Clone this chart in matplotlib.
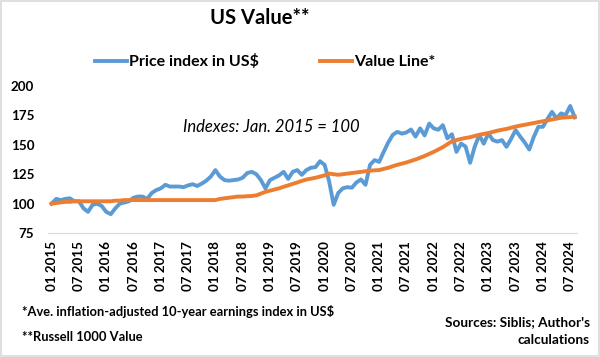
import matplotlib.pyplot as plt
from matplotlib.patches import Rectangle

plt.rcParams['font.family'] = ['Lato', 'DejaVu Sans']

# monthly data, Jan 2015 -> Aug 2024
years = list(range(2015, 2025))
price_index = [
    100, 104, 103, 104, 104.5, 102, 102, 96, 93, 99, 100, 98,            # 2015
    93, 91, 96, 100, 101, 102, 105, 106, 106, 104, 109, 111.5,           # 2016
    113, 116, 114.5, 114.5, 114.5, 114, 115.5, 116.5, 115, 117, 119.5, 123,  # 2017
    128.5, 123, 120, 119.5, 120, 120.5, 122, 126, 127, 125, 120, 113,    # 2018
    120, 122, 124, 127, 121, 127, 128.5, 124.5, 128.5, 130.5, 131, 136,  # 2019
    133, 119, 99, 109, 113, 114, 113.5, 118, 120.5, 116, 133, 137,       # 2020
    135.5, 144, 152, 158.5, 161, 159.5, 160.5, 163, 157, 164, 158, 168,  # 2021
    164, 162.8, 166.7, 155.5, 159, 144, 151, 148.5, 134.7, 148.3, 158.3, 151,  # 2022
    159.7, 154, 152.7, 154, 148.3, 155, 162.5, 157, 152, 146, 156.8, 165.3,    # 2023
    165.3, 172, 178, 172.4, 176.7, 175.3, 183, 173.3,                    # 2024
]
value_line = [
    100, 100.5, 101, 101.5, 101.5, 102, 102, 102, 102, 102, 102, 102,
    102, 102, 102.5, 102.5, 103, 103, 103, 103, 103, 103, 103, 103,
    103, 103, 103, 103, 103, 103, 103, 103, 103, 103, 103, 103,
    103, 104, 104.5, 105, 105.5, 106, 106, 106.3, 106.5, 107, 108.5, 110,
    111, 112, 113, 114.3, 115.5, 116.8, 118, 119.3, 120.5, 121.2, 122, 123,
    124, 125.5, 125, 124.5, 125, 125.5, 126, 126.5, 127, 127.5, 128, 128.3,
    128.5, 129.5, 130.5, 131.8, 133, 134, 135, 136.3, 137.5, 139, 140.5, 142.3,
    144, 146, 148, 150.5, 153, 154, 155, 155.8, 156.5, 157.5, 158.5, 159.3,
    160, 161, 162, 162.8, 163.5, 164.5, 165.5, 166.3, 167, 167.8, 168.5, 169.3,
    170, 170.8, 171.5, 172.3, 173, 173.3, 173.5, 174,
]
months = list(range(len(price_index)))
tick_pos = list(range(0, len(price_index), 6))
tick_labels = [f"{1 + (p % 12):02d} {2015 + p // 12}" for p in tick_pos]

blue = '#5B9BD5'
orange = '#ED7D31'

fig = plt.figure(figsize=(6, 3.57), dpi=100)
fig.patches.append(Rectangle((0.002, 0.003), 0.996, 0.994, transform=fig.transFigure,
                             fill=False, edgecolor='#d9d9d9', lw=1.2))

ax = fig.add_axes([0.08, 0.3473, 0.8817, 0.4118])
ax.plot(months, price_index, color=blue, lw=2.8, label='Price index in US$', solid_joinstyle='round')
ax.plot(months, value_line, color=orange, lw=2.8, label='Value Line*', solid_joinstyle='round')

ax.set_xlim(-0.8, 115.5)
ax.set_ylim(75, 200)
ax.set_yticks([75, 100, 125, 150, 175, 200])
ax.set_xticks(tick_pos)
ax.set_xticklabels(tick_labels, rotation=90, fontweight='bold', fontsize=9.6)
for lab in ax.get_yticklabels():
    lab.set_fontweight('bold')
    lab.set_fontsize(9.6)
ax.tick_params(axis='both', length=0, colors='black')
ax.tick_params(axis='y', pad=10)
ax.tick_params(axis='x', pad=6)
for s in ['top', 'right', 'left']:
    ax.spines[s].set_visible(False)
ax.spines['bottom'].set_color('#d9d9d9')

ax.text(48.2, 165, 'Indexes: Jan. 2015 = 100', style='italic', fontsize=12, ha='center', va='center')

fig.text(260 / 600, 1 - 18 / 357, 'US Value**', ha='center', va='center', fontsize=14.5, fontweight='bold')
leg = fig.legend(loc='center', bbox_to_anchor=(265 / 600, 1 - 62 / 357), ncol=2, frameon=False,
                 prop={'weight': 'bold', 'size': 11.5}, handlelength=2.0, handletextpad=0.15,
                 columnspacing=3.8)

fig.text(22 / 600, 1 - 312 / 357, '*Ave. inflation-adjusted 10-year earnings index in US$',
         fontsize=9.3, fontweight='bold', va='center')
fig.text(22 / 600, 1 - 337 / 357, '**Russell 1000 Value', fontsize=9.3, fontweight='bold', va='center')
fig.text(590 / 600, 1 - 322 / 357, "Sources: Siblis; Author's", fontsize=9.8, fontweight='bold',
         va='center', ha='right')
fig.text(590 / 600, 1 - 340 / 357, 'calculations', fontsize=9.8, fontweight='bold', va='center', ha='right')

fig.savefig('out.png', dpi=100)
